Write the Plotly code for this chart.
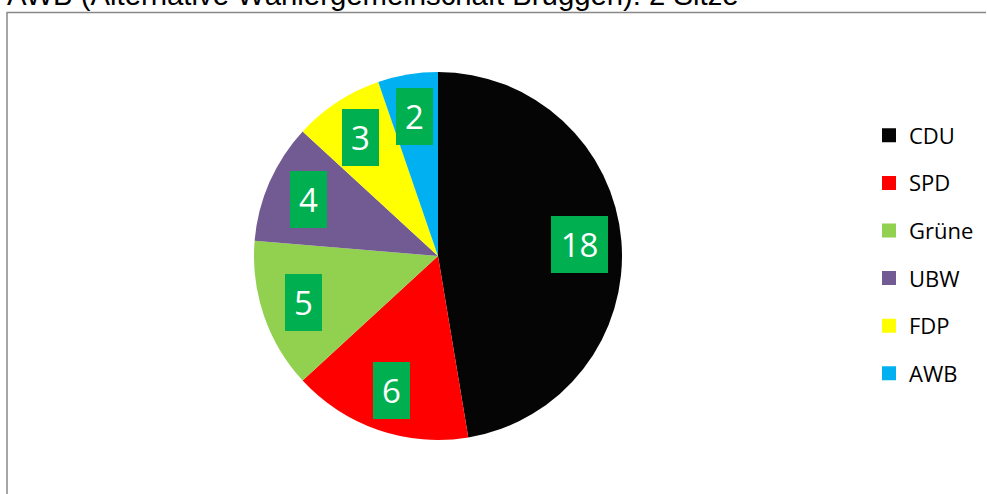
import math
import plotly.graph_objects as go

# ---- data ----
parties = ["CDU", "SPD", "Grüne", "UBW", "FDP", "AWB"]
seats = [18, 6, 5, 4, 3, 2]
title_text = "AWB (Alternative Wählergemeinschaft Brüggen): 2 Sitze"

# ---- styles ----
colors = ["#050505", "#FF0000", "#92D050", "#725A92", "#FFFF00", "#00B0F0"]
label_bg = "#00B050"
W, H = 987, 494
OFF = 0  # body margin removed via post_script


def px_x(x):
    return (x - OFF) / W


def px_y(y):
    return 1 - (y - OFF) / H


# pie geometry (window pixels -> paper domain)
cx_px, cy_px, r_px = 438, 256, 184
dom_x = [px_x(cx_px - r_px), px_x(cx_px + r_px)]
dom_y = [px_y(cy_px + r_px), px_y(cy_px - r_px)]

fig = go.Figure()
fig.add_trace(go.Pie(
    labels=parties, values=seats, sort=False, direction="clockwise", rotation=0,
    marker=dict(colors=colors, line=dict(width=0)),
    textinfo="none", hoverinfo="label+value", showlegend=False,
    domain=dict(x=dom_x, y=dom_y),
))

# legend entries (square markers), one group each for spacing
for p, c in zip(parties, colors):
    fig.add_trace(go.Scatter(
        x=[None], y=[None], mode="markers", name=p, legendgroup=p,
        marker=dict(symbol="square", size=14, color=c, line=dict(width=0)),
    ))

# value labels in green boxes, placed at the slice mid-angle
total = sum(seats)
cum = 0.0
annotations = []
for p, v in zip(parties, seats):
    mid = (cum + v / 2) / total * 2 * math.pi
    cum += v
    rr = 0.77 * r_px
    x_px = cx_px + rr * math.sin(mid)
    y_px = cy_px - rr * math.cos(mid)
    txt = str(v)
    annotations.append(dict(
        x=px_x(x_px), y=px_y(y_px), xref="paper", yref="paper",
        text=txt, showarrow=False, xanchor="center", yanchor="middle",
        font=dict(family="Open Sans", size=33, color="white"),
        bgcolor=label_bg, borderpad=0, borderwidth=0,
        width=17 + 20 * len(txt), height=57,
    ))

annotations.append(dict(
    x=px_x(5), y=px_y(13), xref="paper", yref="paper", text=title_text,
    showarrow=False, xanchor="left", yanchor="bottom",
    font=dict(family="Liberation Sans, Arial", size=29.3, color="black"),
))

fig.update_layout(
    width=W, height=H,
    margin=dict(l=0, r=0, t=0, b=0),
    paper_bgcolor="white", plot_bgcolor="white",
    xaxis=dict(visible=False), yaxis=dict(visible=False),
    showlegend=True,
    legend=dict(
        x=px_x(869), y=px_y(114.5), xanchor="left", yanchor="top",
        font=dict(family="Open Sans", size=22, color="black"),
        tracegroupgap=16, bgcolor="rgba(0,0,0,0)", borderwidth=0,
    ),
    annotations=annotations,
    shapes=[
        dict(type="line", xref="paper", yref="paper", x0=px_x(6.5), x1=px_x(986),
             y0=px_y(12.5), y1=px_y(12.5), line=dict(color="#888888", width=1.5)),
        dict(type="line", xref="paper", yref="paper", x0=px_x(7), x1=px_x(7),
             y0=px_y(12.5), y1=-0.05, line=dict(color="#888888", width=1.5)),
    ],
)

fig.write_html(
    "out.html",
    config={"displayModeBar": False},
    post_script="document.body.style.margin='0px';document.body.style.overflow='hidden';",
)
